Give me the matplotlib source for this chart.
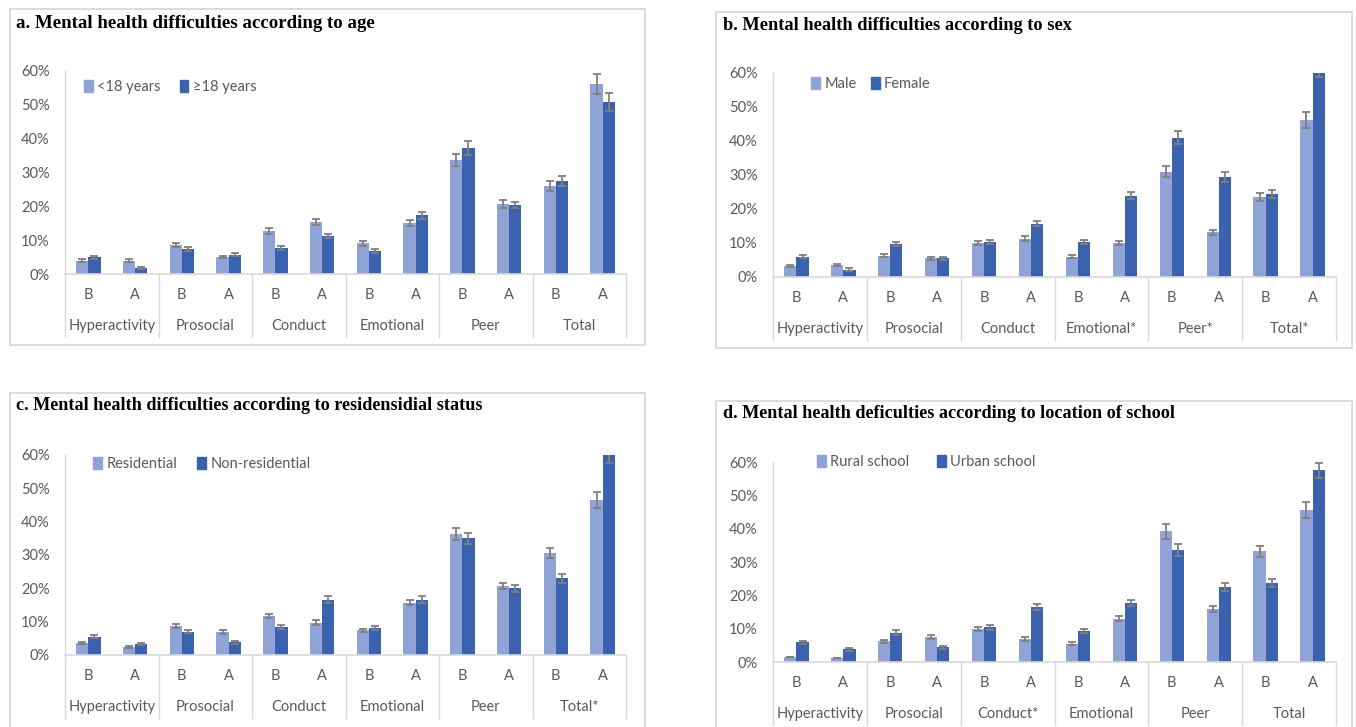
import numpy as np
import matplotlib
matplotlib.use("Agg")
import matplotlib.pyplot as plt
from matplotlib.patches import Rectangle, Patch
from matplotlib.lines import Line2D
from matplotlib.transforms import offset_copy

# Data (percent), order: Hyp B, Hyp A, Pro B, Pro A, Con B, Con A, Emo B, Emo A, Peer B, Peer A, Tot B, Tot A
phases = ["B", "A"]

cats_a = ["Hyperactivity", "Prosocial", "Conduct", "Emotional", "Peer", "Total"]
series_a = ["<18 years", "≥18 years"]
a_light = [3.9, 3.9, 8.6, 5.0, 12.7, 15.5, 9.1, 15.0, 33.7, 20.7, 26.0, 56.1]
a_dark = [4.9, 1.9, 7.3, 5.7, 7.8, 11.1, 6.8, 17.4, 37.3, 20.4, 27.5, 50.9]
a_light_err = [0.4, 0.4, 0.5, 0.4, 0.8, 0.9, 0.7, 0.9, 1.7, 1.2, 1.4, 3.0]
a_dark_err = [0.4, 0.3, 0.6, 0.4, 0.6, 0.6, 0.6, 1.0, 2.0, 1.0, 1.6, 2.6]

cats_b = ["Hyperactivity", "Prosocial", "Conduct", "Emotional*", "Peer*", "Total*"]
series_b = ["Male", "Female"]
b_light = [3.2, 3.4, 6.3, 5.5, 10.0, 11.3, 6.0, 10.0, 31.0, 13.1, 23.6, 46.2]
b_dark = [6.0, 2.2, 9.7, 5.5, 10.3, 15.7, 10.3, 23.9, 41.0, 29.3, 24.4, 61.0]
b_light_err = [0.3, 0.3, 0.4, 0.4, 0.7, 0.7, 0.4, 0.6, 1.5, 0.8, 1.2, 2.3]
b_dark_err = [0.5, 0.3, 0.7, 0.5, 0.7, 0.8, 0.7, 1.1, 2.0, 1.5, 1.3, 2.3]

cats_c = ["Hyperactivity", "Prosocial", "Conduct", "Emotional", "Peer", "Total*"]
series_c = ["Residential", "Non-residential"]
c_light = [3.5, 2.5, 8.8, 6.9, 11.8, 9.7, 7.4, 15.7, 36.2, 20.7, 30.7, 46.5]
c_dark = [5.5, 3.3, 7.0, 3.8, 8.3, 16.6, 8.2, 16.6, 35.0, 20.0, 23.0, 60.5]
c_light_err = [0.3, 0.3, 0.6, 0.5, 0.6, 0.7, 0.5, 0.8, 1.8, 1.0, 1.5, 2.4]
c_dark_err = [0.5, 0.4, 0.5, 0.4, 0.6, 1.0, 0.6, 1.0, 1.6, 1.0, 1.3, 2.8]

cats_d = ["Hyperactivity", "Prosocial", "Conduct*", "Emotional", "Peer", "Total"]
series_d = ["Rural school", "Urban school"]
d_light = [1.6, 1.2, 6.2, 7.6, 9.9, 6.8, 5.5, 13.0, 39.2, 15.9, 33.2, 45.6]
d_dark = [5.9, 3.8, 8.8, 4.4, 10.4, 16.5, 9.3, 17.8, 33.7, 22.5, 23.8, 57.5]
d_light_err = [0.0, 0.0, 0.5, 0.6, 0.6, 0.6, 0.4, 0.7, 2.2, 1.0, 1.7, 2.5]
d_dark_err = [0.4, 0.4, 0.7, 0.4, 0.7, 0.9, 0.5, 0.9, 1.8, 1.3, 1.2, 2.3]

titles = ["a. Mental health difficulties according to age",
          "b. Mental health difficulties according to sex",
          "c. Mental health difficulties according to residensidial status",
          "d. Mental health deficulties according to location of school"]

LIGHT = "#8fa3d6"
DARK = "#3a62ae"
ERR = "#7f7f7f"
GRID = "#d9d9d9"
TXT = "#595959"
SANS = ["Lato", "DejaVu Sans"]

W, H = 1356, 727
fig = plt.figure(figsize=(W / 100, H / 100), dpi=100)


def fx(x):
    return x / W


def fy(y):
    return 1 - y / H


def panel(box, title_xy, title_size, axes_px, legend_xy, colsp, cats, series,
          light, dark, light_err, dark_err, title):
    bx0, by0, bx1, by1 = box
    fig.add_artist(Rectangle((fx(bx0), fy(by1)), fx(bx1 - bx0), (by1 - by0) / H,
                             transform=fig.transFigure, fill=False, edgecolor=GRID, lw=1.3))
    fig.text(fx(title_xy[0]), fy(title_xy[1]), title, ha="left", va="center",
             fontsize=title_size, fontweight="bold", family="Liberation Serif")

    x0, ytop, x1, yzero = axes_px
    ax = fig.add_axes([fx(x0), fy(yzero), fx(x1 - x0), (yzero - ytop) / H])
    n = len(light)
    x = np.arange(n) + 0.5
    w = 0.26
    ax.bar(x - w / 2, light, w, color=LIGHT, yerr=light_err, ecolor=ERR,
           error_kw=dict(capsize=3, elinewidth=1.3, capthick=1.3), label=series[0])
    ax.bar(x + w / 2, dark, w, color=DARK, yerr=dark_err, ecolor=ERR,
           error_kw=dict(capsize=3, elinewidth=1.3, capthick=1.3), label=series[1])
    ax.set_xlim(0, n)
    ax.set_ylim(0, 60)
    ax.set_yticks(range(0, 61, 10))
    ax.set_yticklabels([f"{v}%" for v in range(0, 61, 10)], color=TXT, fontsize=10.5, family=SANS)
    ax.tick_params(length=0, pad=11)
    ax.set_xticks([])
    for s in ["top", "right"]:
        ax.spines[s].set_visible(False)
    ax.spines["left"].set_color(GRID)
    ax.spines["bottom"].set_color(GRID)
    ax.spines["left"].set_linewidth(1)
    ax.spines["bottom"].set_linewidth(1.2)

    # two-level category axis: B/A row, then scale names, with separators
    tr = ax.get_xaxis_transform()
    t1 = offset_copy(tr, fig=fig, y=-21, units="dots")
    t2 = offset_copy(tr, fig=fig, y=-52, units="dots")
    for i, xi in enumerate(x):
        ax.text(xi, 0, phases[i % 2], transform=t1, ha="center", va="center",
                color=TXT, fontsize=10.5, family=SANS)
    for k, c in enumerate(cats):
        ax.text(2 * k + 1, 0, c, transform=t2, ha="center", va="center",
                color=TXT, fontsize=10.5, family=SANS)
    depth = 63 / (yzero - ytop)
    for k in range(len(cats) + 1):
        ax.add_line(Line2D([2 * k, 2 * k], [0, -depth], transform=tr, color=GRID,
                           lw=1, clip_on=False))

    handles = [Patch(color=LIGHT, label=series[0]), Patch(color=DARK, label=series[1])]
    leg = ax.legend(handles=handles, loc="center left", ncol=2, frameon=False,
                    bbox_to_anchor=(fx(legend_xy[0]), fy(legend_xy[1])),
                    bbox_transform=fig.transFigure, borderpad=0, borderaxespad=0,
                    handlelength=0.6, handleheight=0.8, handletextpad=0.3,
                    columnspacing=colsp, prop={"family": SANS, "size": 10.5})
    for t in leg.get_texts():
        t.set_color(TXT)
    return ax


panel((10, 9, 645, 345), (16, 23), 13.6, (65, 71, 626, 274), (84, 87), 1.3,
      cats_a, series_a, a_light, a_dark, a_light_err, a_dark_err, titles[0])
panel((716, 12, 1352, 348), (723, 25), 13.2, (773, 73, 1336, 277), (811, 84), 1.0,
      cats_b, series_b, b_light, b_dark, b_light_err, b_dark_err, titles[1])
panel((10, 393, 645, 735), (16, 406), 13.1, (65, 455, 626, 655), (93, 464), 1.4,
      cats_c, series_c, c_light, c_dark, c_light_err, c_dark_err, titles[2])
panel((716, 401, 1352, 735), (723, 413), 13.1, (773, 462, 1336, 662), (817, 462), 1.9,
      cats_d, series_d, d_light, d_dark, d_light_err, d_dark_err, titles[3])

fig.savefig("out.png", dpi=100)
